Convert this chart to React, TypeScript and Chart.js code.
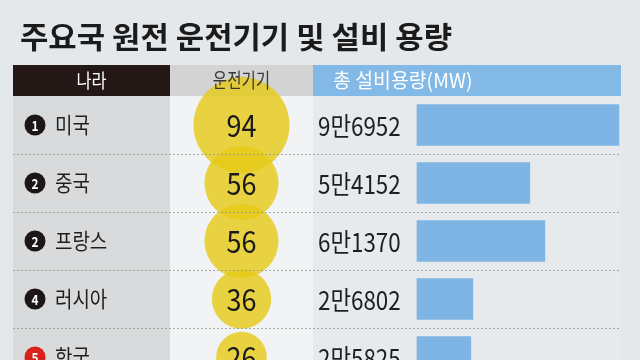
import { useEffect, useRef } from 'react';
import { Chart, registerables } from 'chart.js';

Chart.register(...registerables);

// ---------------- data ----------------
const title = '주요국 원전 운전기기 및 설비 용량';
const headers = ['나라', '운전기기', '총 설비용량(MW)'];
const countries = ['미국', '중국', '프랑스', '러시아', '한국'];
const ranks = ['1', '2', '2', '4', '5'];
const reactors = [94, 56, 56, 36, 26];
const capacityMW = [96952, 54152, 61370, 26802, 25825];

// ---------------- layout / style ----------------
const W = 640;
const H = 360;
const AREA_L = 13;
const AREA_R = 621;
const HEAD_T = 65;
const AREA_T = 96;
const COL1 = 170;
const COL2 = 313;
const BAR_L = 417;
const BAR_FULL = 619;
const ROW_H = 58;
const R_MAX = 48;
const CIRCLE_X = (COL1 + COL2) / 2;
const FONT = '"Noto Sans CJK KR", "Noto Sans", sans-serif';

const C_BG = '#e5e8eb';
const C_COL1 = '#d8dadc';
const C_COL2 = '#f1f3f5';
const C_COL3 = '#e7eaed';
const C_HEAD1 = '#231815';
const C_HEAD2 = '#d3d3d3';
const C_HEAD3 = '#83b9e6';
const C_BAR = '#7fb5e4';
const C_YELLOW = 'rgba(230, 203, 26, 0.82)';
const C_TEXT = '#1e1e1e';

const maxCap = Math.max(...capacityMW);
const maxReactors = Math.max(...reactors);
const pxPerUnit = (BAR_FULL - BAR_L) / maxCap;

function formatMan(v: number): string {
  const man = Math.floor(v / 10000);
  const rest = v % 10000;
  return man > 0 ? `${man}만${rest}` : `${rest}`;
}

function drawText(
  ctx: CanvasRenderingContext2D,
  text: string,
  x: number,
  y: number,
  font: string,
  color: string,
  align: 'left' | 'center',
  sx: number
) {
  ctx.save();
  ctx.font = font;
  ctx.fillStyle = color;
  ctx.textBaseline = 'middle';
  ctx.textAlign = 'left';
  const w = ctx.measureText(text).width * sx;
  const x0 = align === 'center' ? x - w / 2 : x;
  ctx.translate(x0, y);
  ctx.scale(sx, 1);
  ctx.fillText(text, 0, 0);
  ctx.restore();
}

const tablePlugin = {
  id: 'tablePlugin',
  beforeDraw(chart: any) {
    const ctx: CanvasRenderingContext2D = chart.ctx;
    const yScale = chart.scales.y;
    ctx.save();
    ctx.fillStyle = C_BG;
    ctx.fillRect(0, 0, W, H);
    // title
    ctx.font = `bold 30px ${FONT}`;
    const tw = ctx.measureText(title).width;
    drawText(ctx, title, 20, 37, `bold 30px ${FONT}`, '#1b1b1b', 'left', 432 / tw);
    // header cells
    ctx.fillStyle = C_HEAD1;
    ctx.fillRect(AREA_L, HEAD_T, COL1 - AREA_L, AREA_T - HEAD_T);
    ctx.fillStyle = C_HEAD2;
    ctx.fillRect(COL1, HEAD_T, COL2 - COL1, AREA_T - HEAD_T);
    ctx.fillStyle = C_HEAD3;
    ctx.fillRect(COL2, HEAD_T, AREA_R - COL2, AREA_T - HEAD_T);
    // body columns
    ctx.fillStyle = C_COL1;
    ctx.fillRect(AREA_L, AREA_T, COL1 - AREA_L, H - AREA_T);
    ctx.fillStyle = C_COL2;
    ctx.fillRect(COL1, AREA_T, COL2 - COL1, H - AREA_T);
    ctx.fillStyle = C_COL3;
    ctx.fillRect(COL2, AREA_T, AREA_R - COL2, H - AREA_T);
    // country labels
    countries.forEach((name, i) => {
      const cy = yScale.getPixelForValue(i);
      ctx.beginPath();
      ctx.arc(35, cy, 10.5, 0, Math.PI * 2);
      ctx.fillStyle = name === '한국' ? '#d8231c' : '#1c1616';
      ctx.fill();
      drawText(ctx, ranks[i], 35, cy + 1, `bold 14px ${FONT}`, '#ffffff', 'center', 0.85);
      drawText(ctx, name, 55, cy, `22px ${FONT}`, C_TEXT, 'left', 0.86);
      drawText(ctx, formatMan(capacityMW[i]), 318, cy + 1, `26px ${FONT}`, C_TEXT, 'left', 0.86);
    });
    ctx.restore();
  },
  afterDatasetsDraw(chart: any) {
    const ctx: CanvasRenderingContext2D = chart.ctx;
    const yScale = chart.scales.y;
    ctx.save();
    // dashed row separators
    ctx.strokeStyle = 'rgba(150,150,150,0.8)';
    ctx.lineWidth = 1;
    ctx.setLineDash([2, 2]);
    for (let i = 0; i < countries.length - 1; i++) {
      const y = Math.round(yScale.getPixelForValue(i + 0.5)) + 0.5;
      ctx.beginPath();
      ctx.moveTo(AREA_L, y);
      ctx.lineTo(AREA_R, y);
      ctx.stroke();
    }
    ctx.setLineDash([]);
    // header texts
    const hy = (HEAD_T + AREA_T) / 2;
    drawText(ctx, headers[0], (AREA_L + COL1) / 2, hy, `19px ${FONT}`, '#ffffff', 'center', 0.86);
    drawText(ctx, headers[1], CIRCLE_X, hy, `20px ${FONT}`, '#3a3a3a', 'center', 0.78);
    drawText(ctx, headers[2], 333, hy, `20px ${FONT}`, '#ffffff', 'left', 0.97);
    // bubble values
    const meta = chart.getDatasetMeta(1);
    meta.data.forEach((el: any, i: number) => {
      drawText(ctx, String(reactors[i]), el.x, el.y + 1, `30px ${FONT}`, '#1a1a1a', 'center', 0.9);
    });
    ctx.restore();
  },
};

export default function App() {
  const ref = useRef<HTMLCanvasElement | null>(null);
  useEffect(() => {
    if (!ref.current) return;
    const chart = new Chart(ref.current, {
      type: 'bar',
      data: {
        datasets: [
          {
            type: 'bar',
            indexAxis: 'y',
            xAxisID: 'x',
            yAxisID: 'y',
            data: capacityMW.map((v, i) => ({ x: v, y: i })),
            backgroundColor: C_BAR,
            borderWidth: 0,
            barThickness: 41,
            grouped: false,
          } as any,
          {
            type: 'bubble',
            xAxisID: 'xb',
            yAxisID: 'y',
            data: reactors.map((v, i) => ({ x: CIRCLE_X, y: i, r: R_MAX * Math.sqrt(v / maxReactors) })),
            backgroundColor: C_YELLOW,
            borderWidth: 0,
            clip: false,
          } as any,
        ],
      },
      options: {
        responsive: false,
        animation: false,
        events: [],
        layout: { autoPadding: false, padding: { left: AREA_L, right: W - AREA_R, top: AREA_T, bottom: 0 } },
        plugins: { legend: { display: false }, tooltip: { enabled: false }, title: { display: false } },
        scales: {
          x: {
            type: 'linear',
            display: false,
            offset: false,
            grace: 0,
            min: -(BAR_L - AREA_L) / pxPerUnit,
            max: (AREA_R - BAR_L) / pxPerUnit,
          },
          xb: { type: 'linear', display: false, offset: false, grace: 0, min: AREA_L, max: AREA_R },
          y: {
            type: 'linear',
            display: false,
            offset: false,
            grace: 0,
            reverse: true,
            min: -0.5,
            max: -0.5 + (H - AREA_T) / ROW_H,
          },
        },
      } as any,
      plugins: [tablePlugin],
    });
    return () => chart.destroy();
  }, []);
  return (
    <div style={{ position: 'fixed', left: 0, top: 0, width: W, height: H, background: C_BG }}>
      <canvas ref={ref} width={W} height={H} style={{ display: 'block' }} />
    </div>
  );
}
